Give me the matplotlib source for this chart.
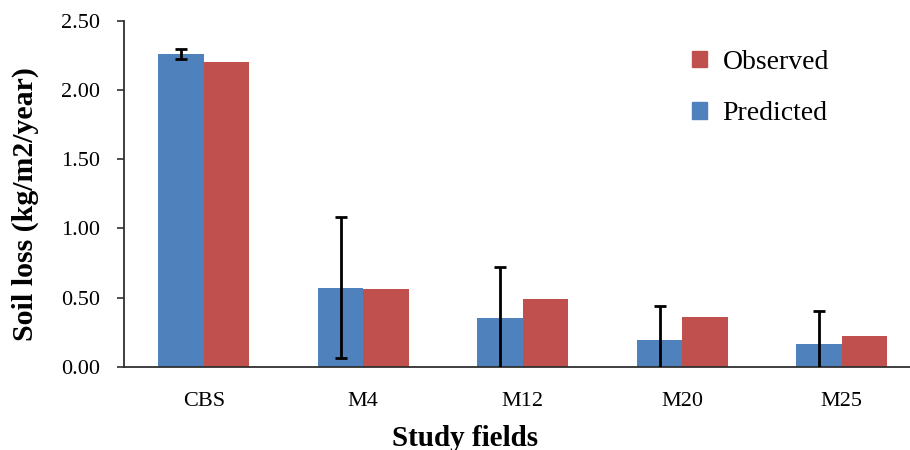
import numpy as np
import matplotlib
matplotlib.use('Agg')
import matplotlib.pyplot as plt
from matplotlib.patches import Patch

fields = ['CBS', 'M4', 'M12', 'M20', 'M25']
predicted = [2.26, 0.57, 0.35, 0.19, 0.165]
observed = [2.20, 0.56, 0.49, 0.36, 0.22]
pred_err = [0.035, 0.51, 0.37, 0.25, 0.235]

blue = '#4F81BD'
red = '#C0504D'
serif = 'Liberation Serif'

fig = plt.figure(figsize=(9.1, 4.5), dpi=100)
ax = fig.add_axes([124 / 910, 1 - 366.7 / 450, 797.5 / 910, 345.7 / 450])

x = np.arange(len(fields))
w = 0.285
ax.bar(x - w / 2, predicted, w, color=blue, zorder=2)
ax.bar(x + w / 2, observed, w, color=red, zorder=2)
ax.errorbar(x - w / 2, predicted, yerr=pred_err, fmt='none', ecolor='black',
            elinewidth=2, capsize=4.5, capthick=2, zorder=3)

ax.set_xlim(-0.5, len(fields) - 0.5)
ax.set_ylim(0, 2.5)
ax.set_yticks(np.arange(0, 2.51, 0.5))
ax.set_yticklabels(['%.2f' % v for v in np.arange(0, 2.51, 0.5)],
                   fontfamily=serif, fontsize=16)
ax.set_xticks(x)
ax.set_xticklabels(fields, fontfamily=serif, fontsize=16)
ax.tick_params(axis='y', length=5, width=1.2, color='#303030', pad=12)
ax.tick_params(axis='x', length=0, pad=18)

for s in ['top', 'right']:
    ax.spines[s].set_visible(False)
for s in ['left', 'bottom']:
    ax.spines[s].set_color('#303030')
    ax.spines[s].set_linewidth(1.3)

fig.text(25 / 910, 1 - 204.5 / 450, 'Soil loss (kg/m2/year)', rotation=90,
         ha='center', va='center', fontfamily=serif, fontweight='bold', fontsize=21.5)
fig.text(465 / 910, 1 - 438 / 450, 'Study fields', ha='center', va='center',
         fontfamily=serif, fontweight='bold', fontsize=21)

handles = [Patch(color=red, label='Observed'), Patch(color=blue, label='Predicted')]
ax.legend(handles=handles, loc='upper left', bbox_to_anchor=(678 / 910, 1 - 36 / 450),
          bbox_transform=fig.transFigure, frameon=False,
          prop={'family': serif, 'size': 20}, handlelength=0.55, handleheight=0.55,
          handletextpad=0.55, labelspacing=0.95, borderpad=0)

fig.savefig('out.png', dpi=100)
